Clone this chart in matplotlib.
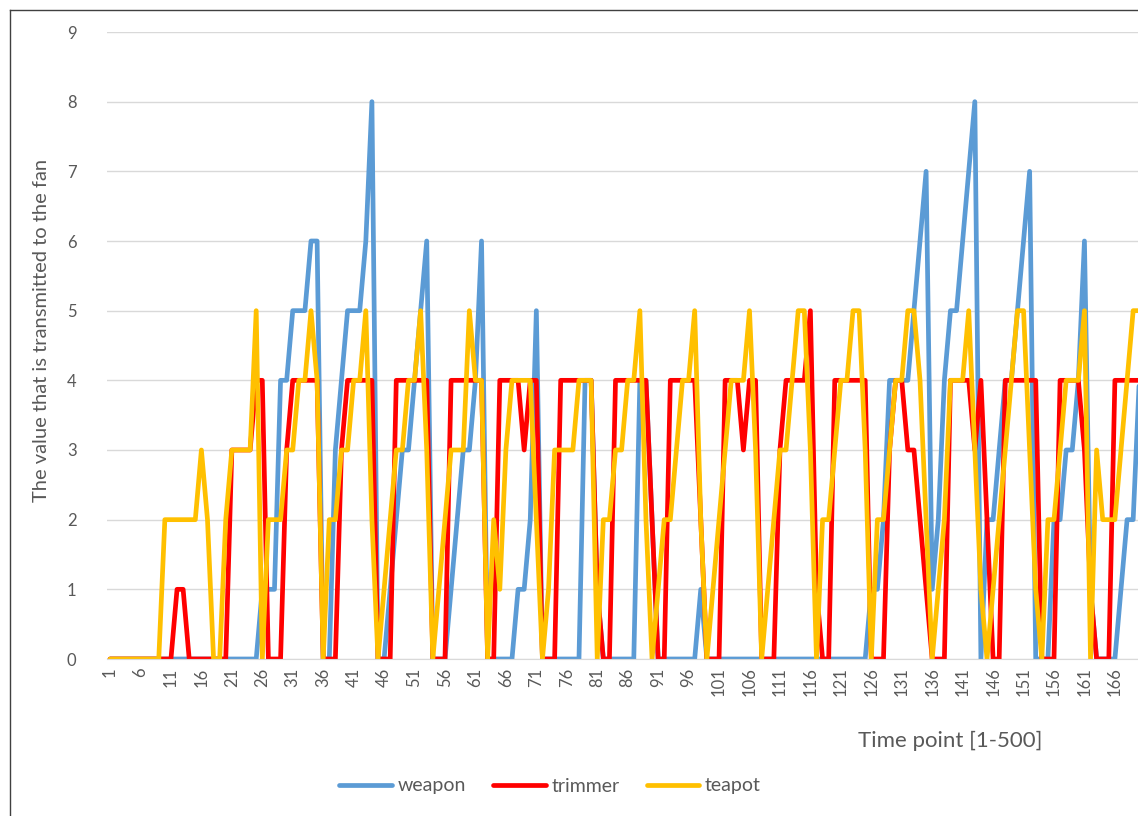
import numpy as np
import matplotlib
matplotlib.use("Agg")
import matplotlib.pyplot as plt
from matplotlib.lines import Line2D

plt.rcParams['font.family'] = ['Lato', 'DejaVu Sans']

# time points 1..171 (the chart is cut at the right edge)
time_points = np.arange(1, 172)
tick_points = np.arange(1, 167, 5)

weapon = [0, 0, 0, 0, 0, 0, 0, 0, 0, 0,
          0, 0, 0, 0, 0, 0, 0, 0, 0, 0,
          0, 0, 0, 0, 0, 1, 1, 1, 4, 4,
          5, 5, 5, 6, 6, 0, 0, 3, 4, 5,
          5, 5, 6, 8, 0, 0, 1, 2, 3, 3,
          4, 5, 6, 0, 0, 0, 1, 2, 3, 3,
          4, 6, 0, 0, 0, 0, 0, 1, 1, 2,
          5, 0, 0, 0, 0, 0, 0, 0, 4, 4,
          1, 0, 0, 0, 0, 0, 0, 4, 4, 2,
          0, 0, 0, 0, 0, 0, 0, 1, 0, 0,
          0, 0, 0, 0, 0, 0, 0, 0, 0, 0,
          0, 0, 0, 0, 0, 0, 0, 0, 0, 0,
          0, 0, 0, 0, 0, 1, 1, 2, 4, 4,
          4, 4, 5, 6, 7, 1, 2, 4, 5, 5,
          6, 7, 8, 0, 2, 2, 3, 4, 4, 5,
          6, 7, 0, 0, 0, 2, 2, 3, 3, 4,
          6, 1, 0, 0, 0, 0, 1, 2, 2, 4,
          5]

trimmer = [0, 0, 0, 0, 0, 0, 0, 0, 0, 0,
           0, 1, 1, 0, 0, 0, 0, 0, 0, 0,
           3, 3, 3, 3, 4, 4, 0, 0, 0, 3,
           4, 4, 4, 4, 4, 0, 0, 0, 3, 4,
           4, 4, 4, 4, 0, 0, 0, 4, 4, 4,
           4, 4, 4, 0, 0, 0, 4, 4, 4, 4,
           4, 4, 0, 0, 4, 4, 4, 4, 3, 4,
           4, 0, 0, 0, 4, 4, 4, 4, 4, 4,
           1, 0, 0, 4, 4, 4, 4, 4, 4, 2,
           0, 0, 4, 4, 4, 4, 4, 2, 0, 0,
           0, 4, 4, 4, 3, 4, 4, 0, 0, 0,
           3, 4, 4, 4, 4, 5, 1, 0, 0, 4,
           4, 4, 4, 4, 4, 0, 0, 0, 3, 4,
           4, 3, 3, 2, 1, 0, 0, 0, 4, 4,
           4, 4, 3, 4, 2, 0, 0, 4, 4, 4,
           4, 4, 4, 0, 0, 0, 4, 4, 4, 4,
           3, 1, 0, 0, 0, 4, 4, 4, 4, 4,
           4]

teapot = [0, 0, 0, 0, 0, 0, 0, 0, 0, 2,
          2, 2, 2, 2, 2, 3, 2, 0, 0, 2,
          3, 3, 3, 3, 5, 0, 2, 2, 2, 3,
          3, 4, 4, 5, 4, 0, 2, 2, 3, 3,
          4, 4, 5, 2, 0, 1, 2, 3, 3, 4,
          4, 5, 3, 0, 1, 2, 3, 3, 3, 5,
          4, 4, 0, 2, 1, 3, 4, 4, 4, 4,
          2, 0, 1, 3, 3, 3, 3, 4, 4, 4,
          0, 2, 2, 3, 3, 4, 4, 5, 2, 0,
          1, 2, 2, 3, 4, 4, 5, 2, 0, 1,
          2, 3, 4, 4, 4, 5, 3, 0, 1, 2,
          3, 3, 4, 5, 5, 3, 0, 2, 2, 3,
          4, 4, 5, 5, 3, 0, 2, 2, 3, 4,
          4, 5, 5, 4, 2, 0, 1, 2, 4, 4,
          4, 5, 3, 1, 0, 1, 2, 3, 4, 5,
          5, 3, 1, 0, 2, 2, 3, 4, 4, 4,
          5, 0, 3, 2, 2, 2, 3, 4, 5, 5,
          5]

series_names = ['weapon', 'trimmer', 'teapot']
series_colors = ['#5B9BD5', '#FF0000', '#FFC000']

text_gray = '#595959'
grid_gray = '#D9D9D9'

fig = plt.figure(figsize=(11.38, 8.16), dpi=100)
ax = fig.add_axes([107 / 1138, 157 / 816, 1 - 107 / 1138, 627 / 816])

for name, vals, col in zip(series_names, [weapon, trimmer, teapot], series_colors):
    ax.plot(time_points, vals, color=col, lw=3.4, label=name,
            solid_joinstyle='round', solid_capstyle='round')

ax.set_xlim(0.5, 0.5 + (1138 - 107) / 6.09)
ax.set_ylim(0, 9)
ax.set_yticks(range(0, 10))
ax.set_xticks(tick_points)
ax.set_xticklabels([str(t) for t in tick_points], rotation=90)
ax.tick_params(axis='both', length=0, labelsize=12, labelcolor=text_gray)
ax.tick_params(axis='y', pad=22)
ax.tick_params(axis='x', pad=6)

ax.grid(axis='y', color=grid_gray, lw=1)
ax.set_axisbelow(True)
for side in ['top', 'right', 'left']:
    ax.spines[side].set_visible(False)
ax.spines['bottom'].set_color(grid_gray)

ax.set_ylabel('The value that is transmitted to the fan', fontsize=14.5,
              color=text_gray)
ax.yaxis.set_label_coords(-(107 - 50) / 1031, (659 - 330) / 627)

fig.text(950 / 1138, 1 - 741 / 816, 'Time point [1-500]', fontsize=16,
         color=text_gray, ha='center', va='center')

leg = fig.legend(loc='center', bbox_to_anchor=(550 / 1138, 1 - 786 / 816),
                 ncol=3, frameon=False, fontsize=14, handlelength=2.7,
                 columnspacing=1.4, handletextpad=0.3)
for t in leg.get_texts():
    t.set_color(text_gray)

# outer chart frame (right and bottom edges are cut off in the reference)
fig.add_artist(Line2D([10 / 1138, 10 / 1138], [0, 1 - 10 / 816],
                      color='#404040', lw=1, transform=fig.transFigure))
fig.add_artist(Line2D([10 / 1138, 1], [1 - 10 / 816, 1 - 10 / 816],
                      color='#404040', lw=1, transform=fig.transFigure))

fig.savefig('out.png', dpi=100)
